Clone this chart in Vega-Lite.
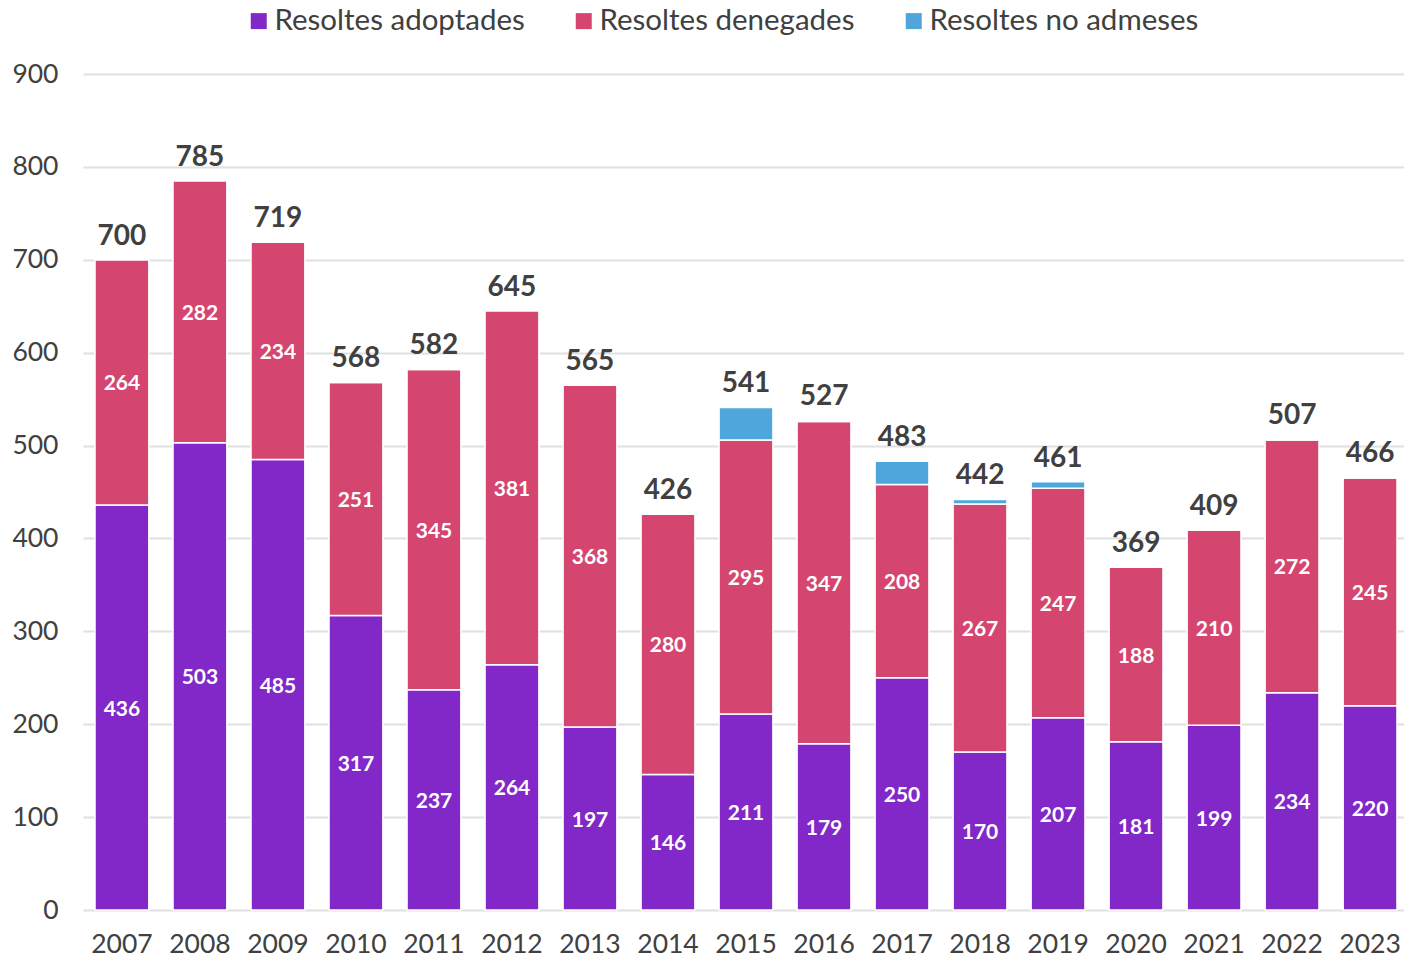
{
  "$schema": "https://vega.github.io/schema/vega-lite/v6.json",
  "width": 1326,
  "height": 836,
  "autosize": {"type": "none"},
  "padding": {"left": 83, "top": 74, "right": 0, "bottom": 47},
  "background": "white",
  "config": {
    "font": "Lato",
    "view": {"stroke": null},
    "axis": {"labelFont": "Lato", "labelColor": "#404040", "labelFontSize": 26.5}
  },
  "data": {
    "values": [
      {"year": "2007", "cat": "Resoltes adoptades", "value": 436},
      {"year": "2007", "cat": "Resoltes denegades", "value": 264},
      {"year": "2007", "cat": "Resoltes no admeses", "value": 0},
      {"year": "2008", "cat": "Resoltes adoptades", "value": 503},
      {"year": "2008", "cat": "Resoltes denegades", "value": 282},
      {"year": "2008", "cat": "Resoltes no admeses", "value": 0},
      {"year": "2009", "cat": "Resoltes adoptades", "value": 485},
      {"year": "2009", "cat": "Resoltes denegades", "value": 234},
      {"year": "2009", "cat": "Resoltes no admeses", "value": 0},
      {"year": "2010", "cat": "Resoltes adoptades", "value": 317},
      {"year": "2010", "cat": "Resoltes denegades", "value": 251},
      {"year": "2010", "cat": "Resoltes no admeses", "value": 0},
      {"year": "2011", "cat": "Resoltes adoptades", "value": 237},
      {"year": "2011", "cat": "Resoltes denegades", "value": 345},
      {"year": "2011", "cat": "Resoltes no admeses", "value": 0},
      {"year": "2012", "cat": "Resoltes adoptades", "value": 264},
      {"year": "2012", "cat": "Resoltes denegades", "value": 381},
      {"year": "2012", "cat": "Resoltes no admeses", "value": 0},
      {"year": "2013", "cat": "Resoltes adoptades", "value": 197},
      {"year": "2013", "cat": "Resoltes denegades", "value": 368},
      {"year": "2013", "cat": "Resoltes no admeses", "value": 0},
      {"year": "2014", "cat": "Resoltes adoptades", "value": 146},
      {"year": "2014", "cat": "Resoltes denegades", "value": 280},
      {"year": "2014", "cat": "Resoltes no admeses", "value": 0},
      {"year": "2015", "cat": "Resoltes adoptades", "value": 211},
      {"year": "2015", "cat": "Resoltes denegades", "value": 295},
      {"year": "2015", "cat": "Resoltes no admeses", "value": 35},
      {"year": "2016", "cat": "Resoltes adoptades", "value": 179},
      {"year": "2016", "cat": "Resoltes denegades", "value": 347},
      {"year": "2016", "cat": "Resoltes no admeses", "value": 1},
      {"year": "2017", "cat": "Resoltes adoptades", "value": 250},
      {"year": "2017", "cat": "Resoltes denegades", "value": 208},
      {"year": "2017", "cat": "Resoltes no admeses", "value": 25},
      {"year": "2018", "cat": "Resoltes adoptades", "value": 170},
      {"year": "2018", "cat": "Resoltes denegades", "value": 267},
      {"year": "2018", "cat": "Resoltes no admeses", "value": 5},
      {"year": "2019", "cat": "Resoltes adoptades", "value": 207},
      {"year": "2019", "cat": "Resoltes denegades", "value": 247},
      {"year": "2019", "cat": "Resoltes no admeses", "value": 7},
      {"year": "2020", "cat": "Resoltes adoptades", "value": 181},
      {"year": "2020", "cat": "Resoltes denegades", "value": 188},
      {"year": "2020", "cat": "Resoltes no admeses", "value": 0},
      {"year": "2021", "cat": "Resoltes adoptades", "value": 199},
      {"year": "2021", "cat": "Resoltes denegades", "value": 210},
      {"year": "2021", "cat": "Resoltes no admeses", "value": 0},
      {"year": "2022", "cat": "Resoltes adoptades", "value": 234},
      {"year": "2022", "cat": "Resoltes denegades", "value": 272},
      {"year": "2022", "cat": "Resoltes no admeses", "value": 1},
      {"year": "2023", "cat": "Resoltes adoptades", "value": 220},
      {"year": "2023", "cat": "Resoltes denegades", "value": 245},
      {"year": "2023", "cat": "Resoltes no admeses", "value": 1}
    ]
  },
  "encoding": {
    "x": {
      "field": "year", "type": "ordinal", "title": null,
      "scale": {"paddingInner": 0.31, "paddingOuter": 0.154},
      "axis": {"labelAngle": 0, "ticks": false, "domain": false, "labelPadding": 21, "grid": false}
    }
  },
  "layer": [
    {
      "mark": {"type": "bar", "stroke": "white", "strokeWidth": 1.5},
      "encoding": {
        "y": {
          "field": "value", "type": "quantitative", "stack": "zero", "title": null,
          "scale": {"domain": [0, 900], "nice": false},
          "axis": {"values": [0,100,200,300,400,500,600,700,800,900], "ticks": false, "domain": false, "labelPadding": 25, "gridColor": "#e0e0e0", "gridWidth": 2}
        },
        "order": {"field": "cat", "sort": "ascending"},
        "color": {
          "field": "cat", "type": "nominal", "title": null,
          "scale": {"domain": ["Resoltes adoptades", "Resoltes denegades", "Resoltes no admeses"], "range": ["#8228C8", "#D4466F", "#4EA6DC"]},
          "legend": {
            "orient": "none", "direction": "horizontal", "legendX": 161, "legendY": -68,
            "symbolType": "square", "symbolSize": 256, "symbolStrokeWidth": 0,
            "labelFontSize": 29.5, "labelColor": "#404040", "labelFont": "Lato", "labelLimit": 400,
            "columnPadding": 44, "labelOffset": 1
          }
        }
      }
    },
    {
      "transform": [{"filter": "datum.cat !== 'Resoltes no admeses'"}],
      "mark": {"type": "text", "color": "white", "fontSize": 21, "fontWeight": "bold", "baseline": "middle", "dy": 2},
      "encoding": {
        "y": {"field": "value", "type": "quantitative", "stack": "zero", "bandPosition": 0.5},
        "detail": {"field": "cat"},
        "order": {"field": "cat", "sort": "ascending"},
        "text": {"field": "value", "type": "quantitative"}
      }
    },
    {
      "transform": [{"aggregate": [{"op": "sum", "field": "value", "as": "total"}], "groupby": ["year"]}],
      "mark": {"type": "text", "color": "#404040", "fontSize": 28, "fontWeight": "bold", "baseline": "bottom", "dy": -9},
      "encoding": {
        "y": {"field": "total", "type": "quantitative"},
        "text": {"field": "total", "type": "quantitative"}
      }
    }
  ]
}
